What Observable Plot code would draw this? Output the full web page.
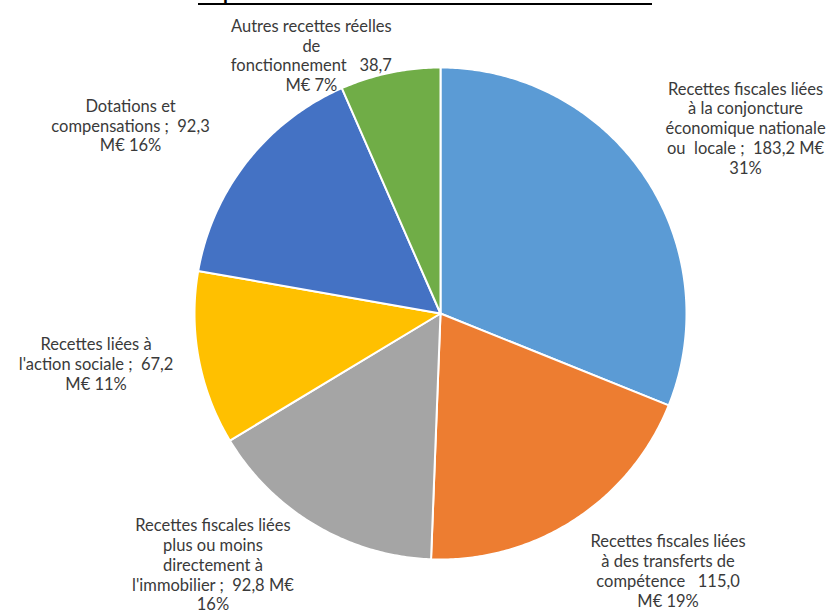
<!DOCTYPE html>
<html>
<head>
<meta charset="utf-8">
<script src="https://cdn.jsdelivr.net/npm/d3@7"></script>
<script src="https://cdn.jsdelivr.net/npm/@observablehq/plot@0.6"></script>
<style>
  html, body { margin: 0; padding: 0; background: #ffffff; }
  #wrap { position: relative; width: 835px; height: 614px; overflow: hidden; }
  #title { position: absolute; left: 0; width: 850px; bottom: 609px; text-align: center; line-height: 1; }
  #title span { font-family: Lato, "Open Sans", sans-serif; font-weight: bold; font-size: 20px; color: #000; border-bottom: 2px solid #000; display: inline-block; padding: 0 2px 2px 2px; }
  #chart { position: absolute; left: 0; top: 0; }
</style>
</head>
<body>
<div id="wrap">
  <div id="title"><span>Répartition des recettes réelles de fonctionnement</span></div>
  <div id="chart"></div>
</div>
<script>
// ---- Data ----
const categories = [
  "Recettes fiscales liées à la conjoncture économique nationale ou locale",
  "Recettes fiscales liées à des transferts de compétence",
  "Recettes fiscales liées plus ou moins directement à l'immobilier",
  "Recettes liées à l'action sociale",
  "Dotations et compensations",
  "Autres recettes réelles de fonctionnement"
];
const values = [183.2, 115.0, 92.8, 67.2, 92.3, 38.7];
const percents = ["31%", "19%", "16%", "11%", "16%", "7%"];
const labels = [
  "Recettes fiscales liées\nà la conjoncture\néconomique nationale\nou  locale ;  183,2 M€\n31%",
  "Recettes fiscales liées\nà des transferts de\ncompétence   115,0\nM€ 19%",
  "Recettes fiscales liées\nplus ou moins\ndirectement à\nl'immobilier ;  92,8 M€\n16%",
  "Recettes liées à\nl'action sociale ;  67,2\nM€ 11%",
  "Dotations et\ncompensations ;  92,3\nM€ 16%",
  "Autres recettes réelles\nde\nfonctionnement   38,7\nM€ 7%"
];
const colors = ["#5B9BD5", "#ED7D31", "#A5A5A5", "#FFC000", "#4472C4", "#70AD47"];

// ---- Layout: label anchors (in pie-radius units, relative to centre) ----
const labelAnchors = [
  [1.24, -0.755],
  [0.925, 1.045],
  [-0.925, 1.02],
  [-1.40, 0.205],
  [-1.26, -0.765],
  [-0.525, -1.05]
];

const table = categories.map((c, i) => ({category: c, value: values[i], percent: percents[i], label: labels[i]}));

// Build slice polygons (unit circle, y downward, start at 12 o'clock, clockwise)
const arcs = d3.pie().sort(null).value(d => d.value)(table);
const slices = arcs.map(a => {
  const ring = [[0, 0]];
  const n = Math.max(2, Math.ceil((a.endAngle - a.startAngle) / 0.01));
  for (let k = 0; k <= n; k++) {
    const t = a.startAngle + (a.endAngle - a.startAngle) * k / n;
    ring.push([Math.sin(t), -Math.cos(t)]);
  }
  ring.push([0, 0]);
  return {type: "Feature", properties: a.data, geometry: {type: "Polygon", coordinates: [ring]}};
});

const labelData = table.map((d, i) => ({...d, lx: labelAnchors[i][0], ly: labelAnchors[i][1]}));

const chart = Plot.plot({
  width: 835,
  height: 614,
  marginTop: 67,
  marginBottom: 55,
  marginLeft: 194,
  marginRight: 149,
  projection: {
    type: "identity",
    domain: {type: "MultiPoint", coordinates: [[-1, -1], [1, 1]]},
    clip: false
  },
  color: {domain: categories, range: colors},
  style: {background: "transparent"},
  marks: [
    Plot.geo(slices, {fill: d => d.properties.category, stroke: "#ffffff", strokeWidth: 2, strokeLinejoin: "round"}),
    Plot.text(labelData, {
      x: "lx", y: "ly", text: "label",
      fontFamily: "Lato, 'Open Sans', sans-serif",
      fontSize: 16.5,
      lineHeight: 1.2,
      fill: "#3a3a3a",
      textAnchor: "middle",
      lineAnchor: "middle"
    })
  ]
});
document.getElementById("chart").appendChild(chart);
</script>
</body>
</html>
